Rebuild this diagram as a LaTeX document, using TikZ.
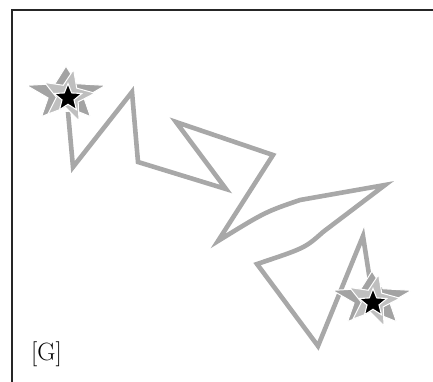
\documentclass[tikz,border=0pt]{standalone}
\usepackage{fontspec}
\usetikzlibrary{shapes.geometric}
\begin{document}
\begin{tikzpicture}[x=1pt,y=-1pt,
  zig/.style={draw=gray!68,line width=4.6pt,line join=miter,miter limit=20},
  starouter/.style={star,star points=5,star point ratio=2.2,minimum size=68pt,xscale=1.22,yscale=0.82,inner sep=0pt,fill=gray!72,draw=white,line width=1pt},
  starmid/.style={star,star points=5,star point ratio=2.3,minimum size=54pt,inner sep=0pt,fill=gray!50,draw=white,line width=1pt},
  starcore/.style={star,star points=5,star point ratio=2.3,minimum size=29pt,inner sep=0pt,fill=black,draw=white,line width=1.1pt},
  lab/.style={font=\fontsize{25}{30}\selectfont,inner sep=0pt}]
\useasboundingbox (0,0) rectangle (433,381);
\draw[line width=1.4pt,black!85] (12,400) -- (12,10) -- (450,10);
% zigzag
\coordinate (p0) at (68,112);
\coordinate (p1) at (73,167);
\coordinate (p2) at (132,92);
\coordinate (p3) at (138,162);
\coordinate (p4) at (226,189);
\coordinate (p5) at (176,122);
\coordinate (p6) at (273,155);
\coordinate (p7) at (218,241);
\coordinate (p8) at (300,200);
\coordinate (p9) at (385,185);
\coordinate (p10) at (323,232);
\coordinate (p11) at (257,264);
\coordinate (p12) at (318,346);
\coordinate (p13) at (363,236);
\coordinate (p14) at (373,300);
\draw[zig] (p0) -- (p1) -- (p2) -- (p3) -- (p4) -- (p5) -- (p6) -- (p7)
  .. controls (265,212) .. (p8) -- (p9) -- (p10) .. controls (305,248) .. (p11) -- (p12) -- (p13) -- (p14);
% stars
\node[starouter] (s1o) at (66,94) {};
\node[starmid,rotate=-12] (s1m) at (68,96) {};
\node[starcore] (s1) at (68,98) {};
\node[starouter] (s2o) at (372,299) {};
\node[starmid,rotate=-12] (s2m) at (373,301) {};
\node[starcore] (s2) at (373,303) {};
\node[lab,anchor=base west] (g) at (31,360) {[G]};
\end{tikzpicture}
\end{document}
